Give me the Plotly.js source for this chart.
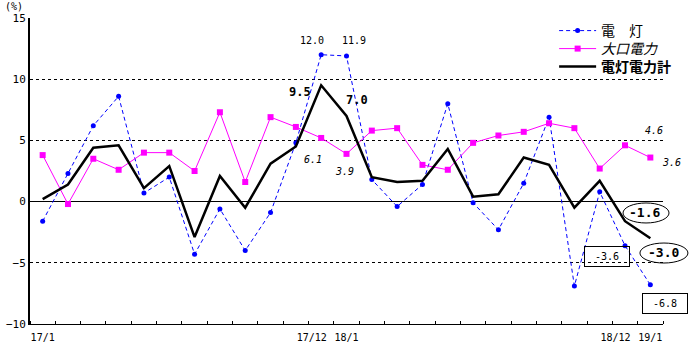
<!DOCTYPE html>
<html><head><meta charset="utf-8">
<script src="https://cdn.plot.ly/plotly-3.0.1.min.js"></script>
<style>html,body{margin:0;padding:0;background:#fff}#chart{width:690px;height:346px}</style>
</head><body><div id="chart"></div>
<script>
const months = ['17/1','17/2','17/3','17/4','17/5','17/6','17/7','17/8','17/9','17/10','17/11','17/12',
                '18/1','18/2','18/3','18/4','18/5','18/6','18/7','18/8','18/9','18/10','18/11','18/12','19/1'];
const dento  = [-1.6, 2.3, 6.2, 8.6, 0.7, 2.0, -4.3, -0.6, -4.0, -0.9, 4.8, 12.0,
                11.9, 1.8, -0.4, 1.4, 8.0, -0.1, -2.3, 1.5, 6.9, -6.9, 0.8, -3.6, -6.8];
const okuchi = [3.8, -0.2, 3.5, 2.6, 4.0, 4.0, 2.5, 7.3, 1.6, 6.9, 6.1, 5.2,
                3.9, 5.8, 6.0, 3.0, 2.6, 4.8, 5.4, 5.7, 6.4, 6.0, 2.7, 4.6, 3.6];
const total  = [0.2, 1.4, 4.4, 4.6, 1.1, 2.9, -2.9, 2.1, -0.5, 3.1, 4.5, 9.5,
                7.0, 2.0, 1.6, 1.7, 4.3, 0.4, 0.6, 3.6, 3.0, -0.5, 1.7, -1.6, -3.0];
const seriesNames = ['電\u3000灯', '<i>大口電力</i>', '<b>電灯電力計</b>'];
const labelIdxA = [0, 12, 24];   // 17/1, 18/1, 19/1
const labelIdxB = [11, 23];      // 17/12, 18/12
const yTicks = [-10, -5, 0, 5, 10, 15];
const unitLabel = '(%)';

const idx = months.map((_, i) => i);
const X0 = -0.5, X1 = months.length - 0.5, Y0 = -10, Y1 = 15;
const bounds = idx.map(i => i - 0.5).concat([X1]);
const NUM = '"DejaVu Sans Mono", monospace';
const JP = '"Noto Sans CJK JP", sans-serif';
const fmt = v => v.toFixed(1);
const px = i => (i - X0) / (X1 - X0);
const py = v => (v - Y0) / (Y1 - Y0);
const labelOffsetB = 0.375;  // nudge the 17/12 and 18/12 labels left, as in the original

const traces = [
  {x: idx, y: dento, name: seriesNames[0], type: 'scatter', mode: 'lines+markers', legend: 'legend',
   line: {color: '#0000FF', width: 1, dash: '4px,3px'}, marker: {color: '#0000FF', size: 5, symbol: 'circle'}},
  {x: idx, y: okuchi, name: seriesNames[1], type: 'scatter', mode: 'lines+markers', legend: 'legend2',
   line: {color: '#FF00FF', width: 1}, marker: {color: '#FF00FF', size: 6, symbol: 'square'}},
  {x: idx, y: total, name: seriesNames[2], type: 'scatter', mode: 'lines', legend: 'legend3',
   line: {color: '#000000', width: 2.5}},
  // invisible helper so the second label axis is drawn
  {x: labelIdxB, y: labelIdxB.map(i => total[i]), xaxis: 'x2', yaxis: 'y', type: 'scatter', mode: 'none',
   showlegend: false, hoverinfo: 'skip'}
];

function lab(arr, i, dx, dy, style, extra) {
  let t = fmt(arr[i]);
  if (style === 'b') t = '<b>' + t + '</b>';
  if (style === 'i') t = '<i>' + t + '</i>';
  return Object.assign({x: i, y: arr[i], xref: 'x', yref: 'y', text: t, showarrow: false,
    xshift: dx, yshift: dy, font: {family: NUM, size: 10, color: '#000'}}, extra || {});
}
const boxStyle = {bordercolor: '#000', borderwidth: 1, borderpad: 1, width: 42, height: 17};
const annotations = [
  lab(dento, 11, -9, 14, ''),
  lab(dento, 12, 7, 15, ''),
  lab(total, 11, -21, -7, 'b', {font: {family: NUM, size: 12, color: '#000'}}),
  lab(total, 12, 10.5, 16, 'b', {font: {family: NUM, size: 12, color: '#000'}}),
  lab(okuchi, 10, 17.6, -33, 'i'),
  lab(okuchi, 12, -2.5, -18, 'i'),
  lab(okuchi, 23, 29, 15, 'i'),
  lab(okuchi, 24, 21.6, -5, 'i'),
  lab(total, 23, 19, 8.2, 'b', {font: {family: NUM, size: 13, color: '#000'}}),
  lab(total, 24, 13.6, -14.4, 'b', {font: {family: NUM, size: 13, color: '#000'}}),
  lab(dento, 23, -18.5, -11.3, '', boxStyle),
  lab(dento, 24, 14.6, -18.7, '', boxStyle),
  {x: -27 / 633, y: 1.036, xref: 'paper', yref: 'paper', xanchor: 'left', yanchor: 'middle',
   text: unitLabel, showarrow: false, font: {family: NUM, size: 10, color: '#000'}}
];

const shapes = [
  {type: 'circle', xref: 'paper', yref: 'paper', xsizemode: 'pixel', ysizemode: 'pixel',
   xanchor: px(23), yanchor: py(total[23]), x0: -2, x1: 44, y0: -1.8, y1: 18.2,
   line: {color: '#000', width: 1}},
  {type: 'circle', xref: 'paper', yref: 'paper', xsizemode: 'pixel', ysizemode: 'pixel',
   xanchor: px(24), yanchor: py(total[24]), x0: -10.4, x1: 37.6, y0: -24.7, y1: -4.7,
   line: {color: '#000', width: 1}}
];

const legBase = {x: 0.828, xanchor: 'left', yanchor: 'middle', bgcolor: 'rgba(255,255,255,0)',
                 font: {family: JP, size: 14, color: '#000'}, itemwidth: 37};
const xTickFont = {family: NUM, size: 10, color: '#000'};
const layout = {
  width: 690, height: 346,
  margin: {l: 30, r: 27, t: 18, b: 22, pad: 0, autoexpand: false},
  paper_bgcolor: '#fff', plot_bgcolor: '#fff',
  showlegend: true,
  legend: Object.assign({}, legBase, {y: 0.9575}),
  legend2: Object.assign({}, legBase, {y: 0.8987}),
  legend3: Object.assign({}, legBase, {y: 0.8399}),
  xaxis: {range: [X0, X1], showgrid: false, zeroline: false, showline: true, linecolor: '#000', linewidth: 1,
          tickmode: 'array', tickvals: labelIdxA, ticktext: labelIdxA.map(i => months[i]), ticks: '',
          ticklabelstandoff: 4, tickangle: 0, tickfont: xTickFont,
          minor: {tickmode: 'array', tickvals: bounds, ticks: 'inside', ticklen: 3, tickcolor: '#000', tickwidth: 1, showgrid: false},
          fixedrange: true},
  xaxis2: {overlaying: 'x', anchor: 'y', side: 'bottom', range: [X0 + labelOffsetB, X1 + labelOffsetB],
           showgrid: false, zeroline: false, showline: true, linecolor: 'rgba(0,0,0,0)', linewidth: 1,
           tickmode: 'array', tickvals: labelIdxB,
           ticktext: labelIdxB.map(i => months[i]), ticks: '', ticklabelstandoff: 4, tickangle: 0,
           tickfont: xTickFont, fixedrange: true},
  yaxis: {range: [Y0, Y1], tickmode: 'array', tickvals: yTicks, showgrid: true, gridcolor: '#000', gridwidth: 1,
          griddash: '3px,3px', zeroline: true, zerolinecolor: '#000', zerolinewidth: 1.5,
          showline: true, linecolor: '#000', linewidth: 2, ticks: '',
          tickfont: {family: NUM, size: 11, color: '#000'}, fixedrange: true},
  annotations: annotations,
  shapes: shapes
};

Plotly.newPlot('chart', traces, layout, {displayModeBar: false, staticPlot: true});
</script>
</body></html>
